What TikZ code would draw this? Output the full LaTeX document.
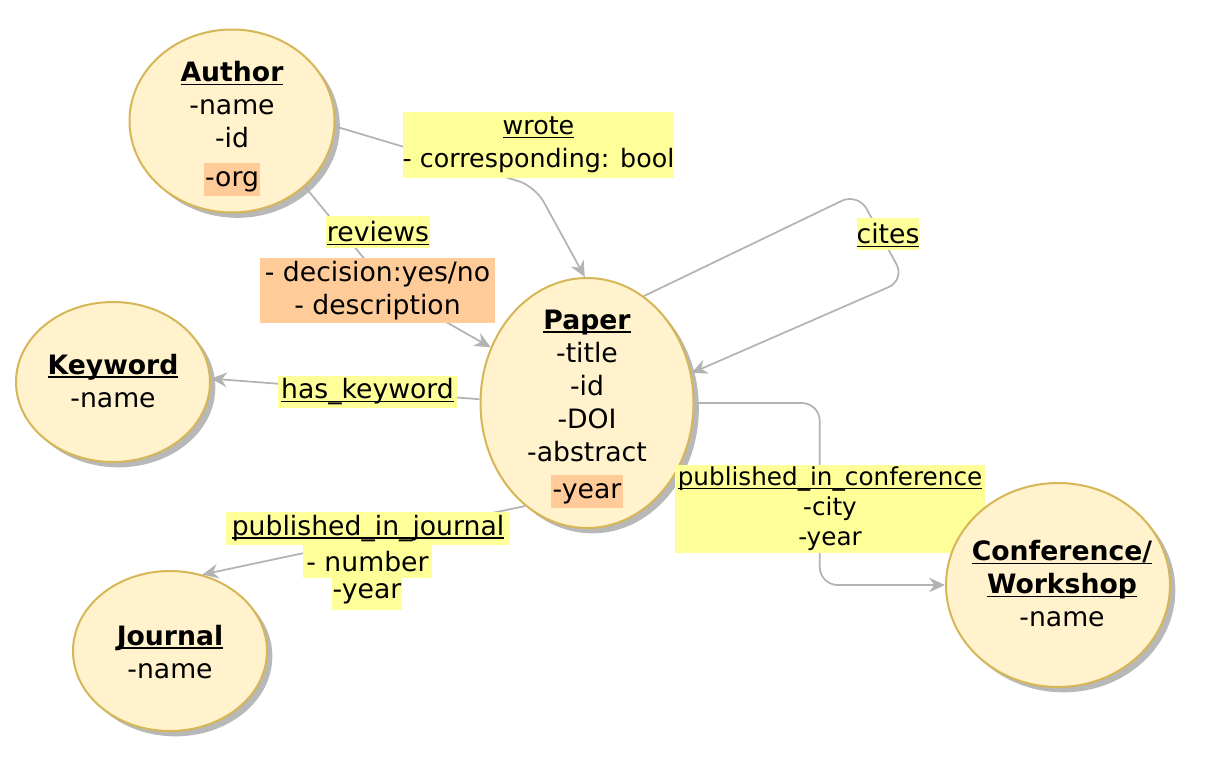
\documentclass[tikz,border=0pt]{standalone}
\usepackage{fontspec}
\setmainfont{DejaVu Sans}
\usetikzlibrary{shapes.geometric,shadows,arrows.meta,calc}
\definecolor{entfill}{HTML}{FFF2CC}
\definecolor{entdraw}{HTML}{D6B656}
\definecolor{yel}{HTML}{FFFF99}
\definecolor{org}{HTML}{FFCC99}
\definecolor{edgec}{HTML}{B3B3B3}
\newdimen\pxu \pxu=0.75pt
\newcommand\ulx[1]{{\setbox0\hbox{#1}\rlap{\smash{\rule[-2.6pt]{\wd0}{1.2pt}}}\box0}}
\newcommand\hlx[2]{{\fboxsep=1pt\colorbox{#1}{\rule[-6.5pt]{0pt}{23pt}#2}}}
\pgfdeclarelayer{fg}
\pgfsetlayers{main,fg}
\tikzset{
 entity/.style={ellipse, draw=entdraw, line width=1.5pt, fill=entfill, inner sep=0pt,
   drop shadow={shadow xshift=4pt, shadow yshift=-4pt, fill=black!28, opacity=1}},
 etext/.style={align=center, font=\fontsize{20}{24.75}\selectfont, inner sep=0pt},
 conn/.style={draw=edgec, line width=1.3pt, -{Stealth[length=12pt,width=11pt,inset=4pt]}, rounded corners=18\pxu},
 rel/.style={fill=yel, inner sep=0pt, align=center, font=\fontsize{20}{24.75}\selectfont},
 relo/.style={rel, fill=org},
}
\begin{document}
\begin{tikzpicture}[x=0.75pt,y=-0.75pt]
\useasboundingbox (0,0) rectangle (1212,760);
% entities
\node[entity, minimum width=205\pxu, minimum height=183\pxu] (author) at (232,121) {};
\node[entity, minimum width=213\pxu, minimum height=250\pxu] (paper) at (587,403) {};
\node[entity, minimum width=194\pxu, minimum height=160\pxu] (keyword) at (113,382) {};
\node[entity, minimum width=194\pxu, minimum height=160\pxu] (journal) at (170,651) {};
\begin{pgfonlayer}{fg}
\node[entity, minimum width=224\pxu, minimum height=204\pxu] (conf) at (1058,585) {};
\node[etext] (confT) at (1062,584) {\ulx{\textbf{Conference/}}\\\ulx{\textbf{Workshop}}\\-name};
\end{pgfonlayer}
\node[etext] (authorT) at (232,129) {\ulx{\textbf{Author}}\\-name\\-id\\[4pt]\hlx{org}{-org}};
\node[etext] (paperT) at (587,409) {\ulx{\textbf{Paper}}\\-title\\-id\\-DOI\\-abstract\\[3pt]\hlx{org}{-year}};
\node[etext] (keywordT) at (113,381) {\ulx{\textbf{Keyword}}\\-name};
\node[etext] (journalT) at (170,652) {\ulx{\textbf{Journal}}\\-name};
% connectors
\draw[conn] (author.-3) -- (535,186) -- (paper.91);
\draw[conn] (author.-42) -- (390,290) -- (paper.150);
\draw[conn] (paper.62) -- (858,193) -- (905,280) -- (paper.16);
\draw[conn] (paper.178) -- (keyword.2);
\draw[conn] (paper.-121) -- (journal.67);
\draw[conn] (paper.east) -| ($(paper.east)!.5!(conf.west)$) |- (conf.west);
% relation labels
\node[rel, minimum width=269\pxu, minimum height=66\pxu, font=\fontsize{19}{24.75}\selectfont] (wroteL) at (538.5,145) {\ulx{wrote}\\- corresponding: bool};
\node[rel, minimum width=104\pxu, minimum height=32\pxu] (revL) at (378,232) {\ulx{reviews}};
\node[relo, minimum width=235\pxu, minimum height=65\pxu] (revA) at (377.5,290.5) {- decision:yes/no\\- description};
\node[rel, minimum width=58\pxu, minimum height=32\pxu] (citesL) at (888,234) {\ulx{cites}};
\node[rel, minimum width=179\pxu, minimum height=32\pxu] (hkL) at (367.5,392) {\ulx{has\_keyword}};
\node[rel, minimum width=284\pxu, minimum height=33\pxu] (pj1) at (368,528.5) {\ulx{published\_in\_journal}};
\node[rel, minimum width=129\pxu, minimum height=33\pxu] (pj2) at (367.5,561.5) {- number};
\node[rel, minimum width=70\pxu, minimum height=32\pxu] (pj3) at (367,594) {-year};
\node[rel, minimum width=310\pxu, minimum height=88\pxu, font=\fontsize{18.5}{22.5}\selectfont] (pcL) at (830,509) {\ulx{published\_in\_conference}\\-city\\-year};
\end{tikzpicture}
\end{document}
